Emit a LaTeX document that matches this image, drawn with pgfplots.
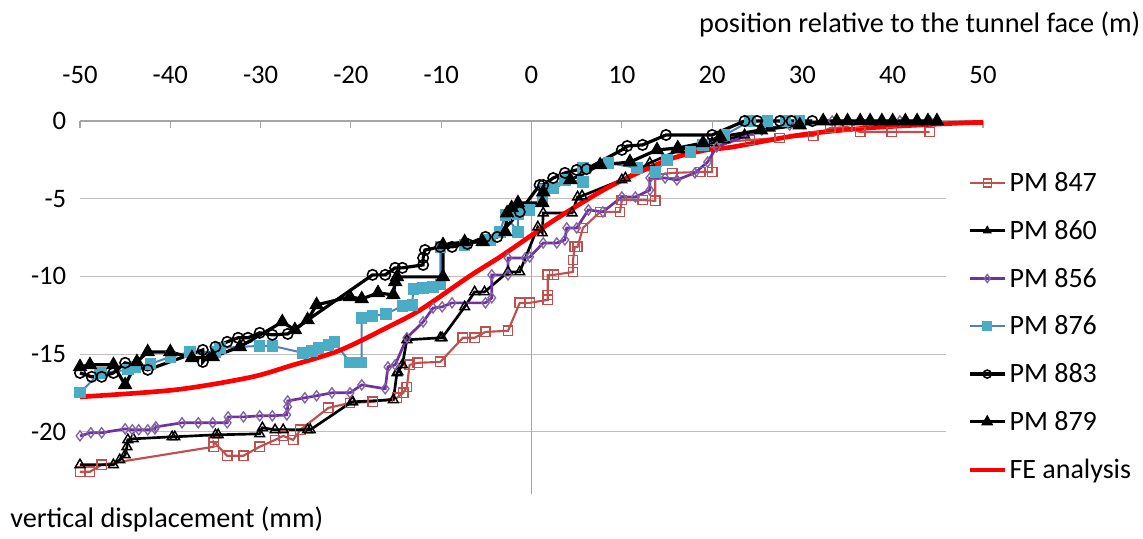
\documentclass[border=0pt]{standalone}
\usepackage{fontspec}
\setmainfont{Carlito}
\usepackage{pgfplots}
\pgfplotsset{compat=1.18}
\definecolor{pmbrown}{HTML}{C0504D}
\definecolor{pmpurple}{HTML}{7030A0}
\definecolor{pmdiam}{HTML}{8064A2}
\definecolor{pmblue}{HTML}{4F81BD}
\definecolor{pmteal}{HTML}{4BACC6}
\definecolor{gridgray}{HTML}{BFBFBF}
\definecolor{axisgray}{HTML}{A6A6A6}

\begin{document}
\begin{tikzpicture}
\useasboundingbox (0,0) rectangle (857.25pt,404.25pt);
\begin{axis}[
  at={(60pt,33.75pt)}, anchor=south west,
  scale only axis, width=677.25pt, height=279.75pt,
  xmin=-50, xmax=50, ymin=-24, ymax=0,
  clip=false,
  axis x line*=top, axis y line*=left,
  x axis line style={draw=axisgray, line width=0.8pt},
  y axis line style={draw=none},
  xtick={-50,-40,...,50},
  xticklabels={-50,-40,-30,-20,-10,0,10,20,30,40,50},
  xtick align=inside, major tick length=5.25pt,
  xtick style={draw=axisgray, line width=0.8pt},
  xticklabel style={anchor=base, yshift=27.75pt},
  ytick={-20,-15,-10,-5,0},
  yticklabels={-20,-15,-10,-5,0},
  ytick style={draw=none},
  yticklabel style={anchor=east, xshift=-6.8pt},
  ymajorgrids, grid style={gridgray, line width=0.8pt},
  tick label style={font=\fontsize{20}{24}\selectfont},
  legend style={at={(0.959,0.922)}, anchor=north west, draw=none, fill=white,
    inner xsep=16pt, inner ysep=14.5pt, row sep=16pt,
    font=\fontsize{21}{25}\selectfont},
  legend cell align=left,
  legend image code/.code={\draw[mark repeat=2, mark phase=2, mark size=3pt] plot coordinates {(0pt,0pt) (13pt,0pt) (26pt,0pt)};},
]
\draw[axisgray, line width=0.8pt] (axis cs:0,-24) -- (axis cs:0,0);

% PM 847
\addplot[pmbrown, line width=1.6pt, mark=square, mark size=3.5pt,
  mark options={solid, fill=white, draw=pmbrown, line width=1.1pt}] coordinates {
(-50,-22.57) (-48.9,-22.57) (-47.6,-22.12) (-35.2,-20.96) (-35.2,-20.64) (-33.7,-21.54)
(-31.9,-21.54) (-30.1,-20.96) (-28.4,-20.52) (-27.5,-20.26) (-26.4,-20.52) (-25.6,-19.87)
(-22.5,-18.46) (-20.1,-18.14) (-17.6,-18.07) (-14.9,-17.81) (-14.2,-17.49) (-13.8,-17.11)
(-13.5,-15.69) (-12.6,-15.56) (-10.1,-15.50) (-7.6,-13.95) (-6.3,-13.95) (-5.1,-13.57)
(-2.6,-13.50) (-1.3,-11.70) (-0.2,-11.70) (1.8,-11.51) (1.8,-11.19) (1.8,-9.90) (2.5,-9.90)
(4.6,-9.71) (4.6,-8.94) (4.8,-8.10) (5.1,-8.10) (5.7,-6.88) (7.6,-5.85) (9.8,-5.85)
(10.0,-5.08) (12.3,-5.08) (13.7,-5.14) (13.7,-3.47) (15.6,-3.34) (18.7,-3.28) (20.0,-3.28)
(20.0,-1.41) (24.2,-1.22) (27.5,-1.09) (31.2,-0.96) (33.1,-0.45) (35.0,-0.39) (36.4,-0.71)
(39.9,-0.71) (44.1,-0.71)
};
\addlegendentry{PM 847}

% PM 860
\addplot[black, line width=2pt, mark=triangle, mark size=4.2pt,
  mark options={solid, fill=white, draw=black, line width=1.1pt}] coordinates {
(-50,-22.12) (-46.3,-22.12) (-45.6,-21.80) (-45.0,-21.48) (-44.8,-20.96) (-44.7,-20.51)
(-44.1,-20.45) (-39.8,-20.32) (-39.5,-20.32) (-35.0,-20.19) (-34.7,-20.19) (-30.1,-20.13)
(-29.8,-19.74) (-28.4,-19.87) (-27.5,-19.87) (-24.8,-19.87) (-24.5,-19.87) (-19.9,-18.07)
(-19.8,-18.07) (-15.3,-17.94) (-14.9,-16.21) (-14.8,-16.14) (-14.3,-15.69) (-13.8,-14.08)
(-10.1,-13.95) (-9.9,-13.95) (-7.4,-11.96) (-6.3,-11.00) (-5.2,-11.00) (-2.6,-9.71)
(-1.3,-9.71) (0.7,-6.82) (1.2,-7.20) (1.3,-5.92) (4.5,-5.92) (5.1,-4.89) (5.6,-4.82)
(10.0,-3.79) (10.4,-3.67) (13.1,-2.70) (16.4,-1.86) (20.0,-1.41) (21.4,-1.22) (23.6,-0.90)
(26.4,-0.45) (29.7,-0.19)
};
\addlegendentry{PM 860}

% PM 856
\addplot[pmpurple, line width=2pt, mark=diamond, mark size=3.8pt,
  mark options={solid, fill=white, draw=pmdiam, line width=1pt}] coordinates {
(-50,-20.26) (-48.8,-20.06) (-47.6,-20.06) (-45.0,-19.81) (-44.2,-19.87) (-43.5,-19.87)
(-42.5,-19.87) (-41.7,-19.81) (-41.6,-19.68) (-38.7,-19.42) (-36.9,-19.42) (-35.3,-19.42)
(-33.7,-19.42) (-33.6,-19.04) (-31.9,-19.04) (-30.1,-18.97) (-28.7,-18.97) (-27.1,-18.91)
(-27.0,-18.39) (-27.0,-18.01) (-25.1,-17.81) (-23.8,-17.68) (-22.1,-17.49) (-20.1,-17.49)
(-18.8,-16.98) (-16.2,-17.23) (-15.9,-15.82) (-15.1,-15.69) (-13.8,-13.95) (-12.0,-12.93)
(-10.9,-12.03) (-9.9,-11.96) (-8.8,-11.70) (-5.1,-11.70) (-4.4,-11.38) (-4.4,-9.90)
(-2.6,-9.90) (-2.6,-8.81) (-0.7,-8.81) (-0.2,-8.75) (1.3,-7.85) (2.8,-7.85) (3.7,-7.65)
(3.9,-6.88) (5.0,-6.88) (6.3,-5.72) (7.9,-5.85) (10.0,-4.89) (11.5,-4.89) (13.1,-4.44)
(13.1,-3.67) (14.8,-3.67) (16.1,-3.79) (18.1,-3.34) (19.5,-2.64) (20.5,-1.67) (25.5,-0.58)
(28.6,-0.26) (33.3,0) (37.5,0) (40.8,0) (44.1,0)
};
\addlegendentry{PM 856}

% PM 876
\addplot[pmblue, line width=1.5pt, mark=square*, mark size=3.5pt,
  mark options={solid, fill=pmteal, draw=pmteal}] coordinates {
(-50,-17.49) (-47.8,-16.21) (-47.6,-16.21) (-44.7,-16.01) (-43.9,-15.82) (-42.2,-15.63)
(-40.0,-15.18) (-37.8,-14.86) (-35.0,-14.86) (-34.5,-14.60) (-30.1,-14.47) (-28.7,-14.47)
(-25.3,-14.92) (-24.3,-14.79) (-23.6,-14.60) (-22.5,-14.41) (-21.8,-14.21) (-20.1,-15.56)
(-18.8,-15.56) (-18.8,-12.67) (-17.6,-12.54) (-16.1,-12.41) (-14.3,-11.90) (-13.2,-11.83)
(-13.1,-10.80) (-12.0,-10.74) (-10.9,-10.68) (-10.1,-10.48) (-10.1,-8.10) (-7.4,-7.97)
(-4.6,-7.65) (-3.5,-7.14) (-2.9,-6.05) (-1.5,-7.14) (-1.5,-5.98) (-0.2,-5.72) (1.2,-5.08)
(1.3,-4.44) (2.4,-4.31) (3.7,-3.79) (5.7,-3.92) (5.7,-3.02) (8.5,-2.70) (11.7,-3.02)
(13.7,-3.28) (15.0,-2.51) (17.6,-1.99) (19.0,-1.54) (21.4,-0.90) (24.2,0) (26.1,0)
(28.1,0) (29.7,0)
};
\addlegendentry{PM 876}

% PM 883
\addplot[black, line width=2.4pt, mark=o, mark size=3.9pt,
  mark options={solid, fill=white, draw=black, line width=1.2pt}] coordinates {
(-50,-16.21) (-48.7,-16.46) (-47.6,-16.46) (-46.3,-16.21) (-45.0,-15.56) (-42.5,-16.01)
(-36.4,-14.73) (-36.4,-15.50) (-35.0,-14.53) (-33.7,-14.21) (-32.5,-13.95) (-31.4,-13.95)
(-30.1,-13.63) (-28.7,-13.76) (-27.0,-13.70) (-17.6,-9.90) (-16.2,-9.90) (-15.1,-9.45)
(-14.3,-9.45) (-12.0,-9.26) (-12.0,-8.81) (-11.8,-8.30) (-10.1,-8.10) (-8.8,-8.10)
(-7.1,-7.91) (-5.1,-7.46) (-3.8,-7.46) (-1.3,-5.85) (0.9,-4.12) (1.3,-4.12) (2.4,-3.67)
(3.7,-3.34) (5.0,-3.15) (6.1,-3.09) (10.0,-1.86) (10.6,-1.61) (12.3,-1.54) (14.9,-0.90)
(20.0,-0.90) (23.6,0) (25.0,0) (27.5,0) (28.8,0) (31.1,0)
};
\addlegendentry{PM 883}

% PM 879
\addplot[black, line width=2.4pt, mark=triangle*, mark size=4pt,
  mark options={solid, fill=black}] coordinates {
(-50,-15.82) (-48.9,-15.69) (-46.3,-15.69) (-45.0,-16.98) (-43.7,-15.50) (-42.5,-14.86)
(-40.0,-14.86) (-37.6,-15.24) (-35.3,-15.18) (-32.3,-14.53) (-27.6,-12.93) (-26.2,-13.44)
(-24.8,-12.80) (-23.8,-11.83) (-20.1,-11.32) (-18.8,-11.45) (-17.0,-11.06) (-15.3,-11.19)
(-15.1,-10.35) (-14.9,-10.03) (-9.8,-10.03) (-9.8,-7.97) (-7.4,-7.78) (-5.4,-7.78)
(-2.9,-7.14) (-2.7,-5.92) (-2.2,-5.59) (-1.5,-5.27) (1.2,-5.27) (1.3,-4.57) (4.3,-3.79)
(7.6,-2.83) (10.9,-2.64) (13.9,-1.86) (16.2,-1.74) (19.0,-1.41) (20.9,-1.03) (25.4,-0.58)
(29.7,-0.26) (32.3,0) (33.8,0) (35.0,0) (36.4,0) (37.5,0) (38.8,0) (40.0,0) (41.4,0)
(42.7,0) (43.9,0) (44.9,0)
};
\addlegendentry{PM 879}

% FE analysis
\addplot[red, line width=3.5pt, smooth] coordinates {
(-50,-17.75) (-39.5,-17.3) (-31.2,-16.5) (-26.7,-15.75) (-21.2,-14.75) (-15.7,-13.2)
(-12.3,-12.15) (-6.9,-10.0) (-3.5,-8.75) (0.9,-7.0) (4.3,-5.72) (8.4,-4.3) (12.0,-3.28)
(15.7,-2.38) (19.4,-1.86) (22.3,-1.67) (29.7,-0.9) (37.2,-0.45) (47.5,-0.13) (50,-0.1)
};
\addlegendentry{FE analysis}
\end{axis}
\node[anchor=base east, inner sep=0pt, font=\fontsize{21.2}{25}\selectfont] at (855.5pt,379.5pt) {position relative to the tunnel face (m)};
\node[anchor=base west, inner sep=0pt, font=\fontsize{21.2}{25}\selectfont] at (7.5pt,8.25pt) {vertical displacement (mm)};
\end{tikzpicture}
\end{document}
